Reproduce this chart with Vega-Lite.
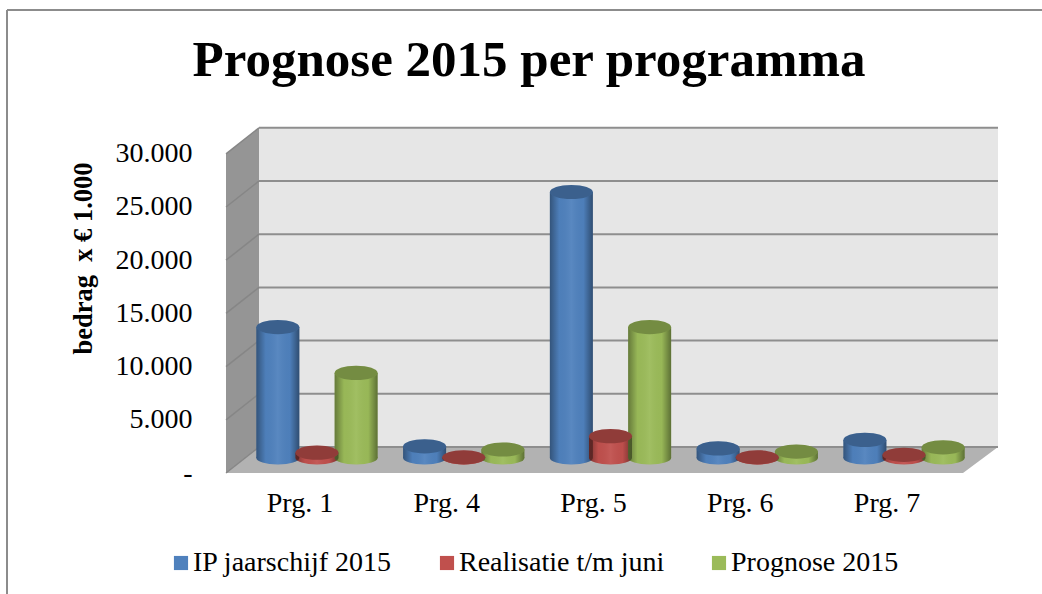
{
"$schema":"https://vega.github.io/schema/vega-lite/v6.json",
"width":772,"height":344,
"autosize":{"type":"none"},
"padding":{"left":226,"top":129,"right":44,"bottom":121},
"background":"white",
"config":{"view":{"stroke":null},"font":"Liberation Serif"},
"title":{"text":"Prognose 2015 per programma","font":"Liberation Serif","fontSize":51,"fontWeight":"bold","color":"#000000","anchor":"middle","frame":"group","dx":-83,"offset":0,"dy":78},
"datasets":{
"bars":[
{"programma":"Prg. 1","reeks":"IP jaarschijf 2015","bedrag":12300},
{"programma":"Prg. 1","reeks":"Realisatie t/m juni","bedrag":500},
{"programma":"Prg. 1","reeks":"Prognose 2015","bedrag":8000},
{"programma":"Prg. 4","reeks":"IP jaarschijf 2015","bedrag":1100},
{"programma":"Prg. 4","reeks":"Realisatie t/m juni","bedrag":60},
{"programma":"Prg. 4","reeks":"Prognose 2015","bedrag":800},
{"programma":"Prg. 5","reeks":"IP jaarschijf 2015","bedrag":25000},
{"programma":"Prg. 5","reeks":"Realisatie t/m juni","bedrag":2050},
{"programma":"Prg. 5","reeks":"Prognose 2015","bedrag":12300},
{"programma":"Prg. 6","reeks":"IP jaarschijf 2015","bedrag":900},
{"programma":"Prg. 6","reeks":"Realisatie t/m juni","bedrag":60},
{"programma":"Prg. 6","reeks":"Prognose 2015","bedrag":600},
{"programma":"Prg. 7","reeks":"IP jaarschijf 2015","bedrag":1700},
{"programma":"Prg. 7","reeks":"Realisatie t/m juni","bedrag":300},
{"programma":"Prg. 7","reeks":"Prognose 2015","bedrag":1000}
],
"raster":[{"v":0,"a":0,"b":2444,"l":0,"m":33,"r":772},{"v":5000,"a":5000,"b":7444,"l":0,"m":33,"r":772},{"v":10000,"a":10000,"b":12444,"l":0,"m":33,"r":772},{"v":15000,"a":15000,"b":17444,"l":0,"m":33,"r":772},{"v":20000,"a":20000,"b":22444,"l":0,"m":33,"r":772},{"v":25000,"a":25000,"b":27444,"l":0,"m":33,"r":772},{"v":30000,"a":30000,"b":32444,"l":0,"m":33,"r":772}],
"leftWall":[{"d":0,"lo":0,"hi":30000},{"d":33,"lo":2444,"hi":32444}],
"floor":[{"d":0,"lo":0,"hi":0},{"d":33,"lo":0,"hi":2444},{"d":737,"lo":0,"hi":2444},{"d":772,"lo":2444,"hi":2444}],
"frame":[{"a":-219,"b":816,"lo":43515,"hi":43515},{"a":-219,"b":-219,"lo":43515,"hi":-11372}]
},
"resolve":{"scale":{"x":"independent"},"axis":{"y":"independent"}},
"layer":[
{
"encoding":{
"x":{"field":"d","type":"quantitative","scale":{"domain":[0,772],"range":[0,772],"nice":false,"zero":false},"axis":null},
"y":{"field":"lo","type":"quantitative","scale":{"domain":[0,32330],"nice":false},"axis":null}
},
"layer":[
{"data":{"name":"frame"},"mark":{"type":"rule","color":"#8c8c8c","strokeWidth":2},
 "encoding":{"x":{"field":"a","type":"quantitative","axis":null},"x2":{"field":"b"},"y":{"field":"lo","type":"quantitative","axis":null},"y2":{"field":"hi"}}},
{"data":{"values":[{"d":33,"lo":2444,"hi":32444},{"d":772,"lo":2444,"hi":32444}]},"mark":{"type":"area","color":"#E6E6E6"},"encoding":{"y2":{"field":"hi"}}},
{"data":{"name":"leftWall"},"mark":{"type":"area","color":"#959595"},"encoding":{"y2":{"field":"hi"}}},
{"data":{"name":"floor"},"mark":{"type":"area","color":"#B2B2B2"},"encoding":{"y2":{"field":"hi"}}},
{"data":{"name":"raster"},"mark":{"type":"rule","color":"#868686","strokeWidth":1.5},
 "encoding":{"x":{"field":"l","type":"quantitative","axis":null},"x2":{"field":"m"},"y":{"field":"a","type":"quantitative","axis":null},"y2":{"field":"b"}}},
{"data":{"name":"raster"},"mark":{"type":"rule","color":"#8e8e8e","strokeWidth":2,"yOffset":-26,"y2Offset":-26},
 "encoding":{"x":{"field":"m","type":"quantitative","axis":null},"x2":{"field":"r"},"y":{"field":"v","type":"quantitative","axis":null}}}
]
},
{
"data":{"name":"bars"},
"resolve":{"axis":{"y":"independent"}},
"encoding":{
"x":{"field":"programma","type":"nominal","sort":null,"scale":{"range":[17.6,751.4],"paddingInner":0.2,"paddingOuter":0.1},
 "axis":{"title":null,"labelAngle":0,"ticks":false,"domain":false,"labelOffset":-17,"labelPadding":16,"labelFontSize":28,"labelColor":"#000000","labelFont":"Liberation Serif"}},
"xOffset":{"field":"reeks","type":"nominal","sort":["IP jaarschijf 2015","Realisatie t/m juni","Prognose 2015"]},
"y":{"field":"bedrag","type":"quantitative","stack":null,"scale":{"domain":[0,32330],"nice":false},"axis":null},
"color":{"field":"reeks","type":"nominal","sort":["IP jaarschijf 2015","Realisatie t/m juni","Prognose 2015"],
 "scale":{"domain":["IP jaarschijf 2015","Realisatie t/m juni","Prognose 2015"],"range":["#4F81BD","#C0504D","#9BBB59"]},
 "legend":{"title":null,"orient":"none","legendX":-59,"legendY":420,"direction":"horizontal","columns":3,"symbolType":"square","symbolSize":200,"symbolOpacity":1,"symbolStrokeWidth":0,"labelFontSize":28,"labelFont":"Liberation Serif","labelColor":"#000000","labelLimit":400,"labelOffset":-2,"columnPadding":40}}
},
"layer":[
{"mark":{"type":"point","filled":true,"opacity":1,"size":1849,"yOffset":-15,"shape":"M-1,0A1,0.3 0 1,1 1,0A1,0.3 0 1,1 -1,0Z"},"encoding":{"y":{"datum":0,"type":"quantitative","axis":null}}},
{"mark":{"type":"point","filled":true,"opacity":1,"size":1849,"yOffset":-15,"shape":"M-1,0A1,0.3 0 1,1 1,0A1,0.3 0 1,1 -1,0Z","fill":{"gradient":"linear","x1":0,"y1":0,"x2":1,"y2":0,"stops":[{"offset":0,"color":"rgba(0,0,0,0.35)"},{"offset":0.22,"color":"rgba(0,0,0,0.02)"},{"offset":0.5,"color":"rgba(255,255,255,0.06)"},{"offset":0.78,"color":"rgba(0,0,0,0.02)"},{"offset":1,"color":"rgba(0,0,0,0.4)"}]}},"encoding":{"color":{"value":null},"y":{"datum":0,"type":"quantitative","axis":null}}},
{"mark":{"type":"bar","width":43,"yOffset":-15,"y2Offset":-15},"encoding":{"y":{"field":"bedrag","type":"quantitative","stack":null,"scale":{"domain":[0,32330],"nice":false},"axis":{"orient":"left","values":[0,5000,10000,15000,20000,25000,30000],"labelExpr":"datum.value==0?'-':replace(format(datum.value,','),',','.')","ticks":false,"domain":false,"grid":false,"labelPadding":34,"labelFontSize":28,"labelColor":"#000000","labelFont":"Liberation Serif",
 "title":"bedrag\u00a0 x € 1.000","titleFont":"Liberation Serif","titleFontSize":26.5,"titleFontWeight":"bold","titleColor":"#000000","titleX":-129,"titleY":129,"titleAngle":-90}},"y2":{"datum":0}}},
{"mark":{"type":"bar","width":43,"yOffset":-15,"y2Offset":-15,"fill":{"gradient":"linear","x1":0,"y1":0,"x2":1,"y2":0,"stops":[{"offset":0,"color":"rgba(0,0,0,0.35)"},{"offset":0.22,"color":"rgba(0,0,0,0.02)"},{"offset":0.5,"color":"rgba(255,255,255,0.06)"},{"offset":0.78,"color":"rgba(0,0,0,0.02)"},{"offset":1,"color":"rgba(0,0,0,0.4)"}]}},"encoding":{"color":{"value":null},"y2":{"datum":0}}},
{"mark":{"type":"point","filled":true,"opacity":1,"size":1849,"yOffset":-15,"shape":"M-1,0A1,0.33 0 1,1 1,0A1,0.33 0 1,1 -1,0Z"}},
{"mark":{"type":"point","filled":true,"opacity":0.25,"size":1849,"yOffset":-15,"shape":"M-1,0A1,0.33 0 1,1 1,0A1,0.33 0 1,1 -1,0Z"},"encoding":{"color":{"value":"#000000"}}}
]
}
]
}
